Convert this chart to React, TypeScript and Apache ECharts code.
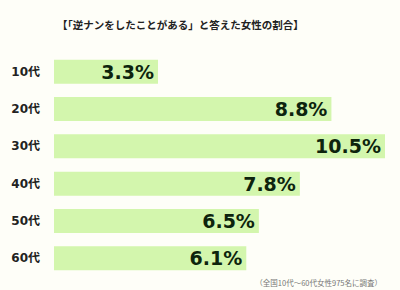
import React, { useEffect, useRef } from "react";
import * as echarts from "echarts";

const categories = ["10代", "20代", "30代", "40代", "50代", "60代"];
const values = [3.3, 8.8, 10.5, 7.8, 6.5, 6.1];
const titleText = "【「逆ナンをしたことがある」と答えた女性の割合】";
const noteText = "（全国10代～60代女性975名に調査）";

export default function App() {
  const ref = useRef<HTMLDivElement>(null);
  useEffect(() => {
    if (!ref.current) return;
    const chart = echarts.init(ref.current, null, { renderer: "svg" });
    chart.setOption({
      animation: false,
      backgroundColor: "#fefef8",
      title: [
        {
          text: titleText,
          left: 52,
          top: 14,
          textStyle: { fontSize: 10.5, fontWeight: "bold", color: "#222", fontFamily: "Noto Sans CJK JP" },
        },
        {
          text: noteText,
          right: 13,
          top: 274,
          textStyle: { fontSize: 7.5, fontWeight: "normal", color: "#777", fontFamily: "Noto Sans CJK JP" },
        },
      ],
      grid: { left: 54, right: 15, top: 53, height: 224, containLabel: false },
      xAxis: { type: "value", min: 0, max: 10.5, show: false },
      yAxis: {
        type: "category",
        data: categories,
        inverse: true,
        axisLine: { show: false },
        axisTick: { show: false },
        axisLabel: {
          margin: 14,
          fontSize: 12,
          fontWeight: "bold",
          color: "#222",
          fontFamily: "DejaVu Sans, Noto Sans CJK JP",
        },
      },
      series: [
        {
          type: "bar",
          data: values,
          barWidth: 24,
          itemStyle: { color: "#d3f6ad" },
          label: {
            show: true,
            position: "insideRight",
            distance: 4,
            formatter: (p: any) => p.value.toFixed(1) + "%",
            fontSize: 19,
            fontWeight: "bold",
            color: "#0d240d",
            fontFamily: "Verdana, DejaVu Sans, sans-serif",
          },
        },
      ],
    });
    return () => chart.dispose();
  }, []);
  return <div ref={ref} style={{ width: 400, height: 290, position: "fixed", left: 0, top: 0 }} />;
}
